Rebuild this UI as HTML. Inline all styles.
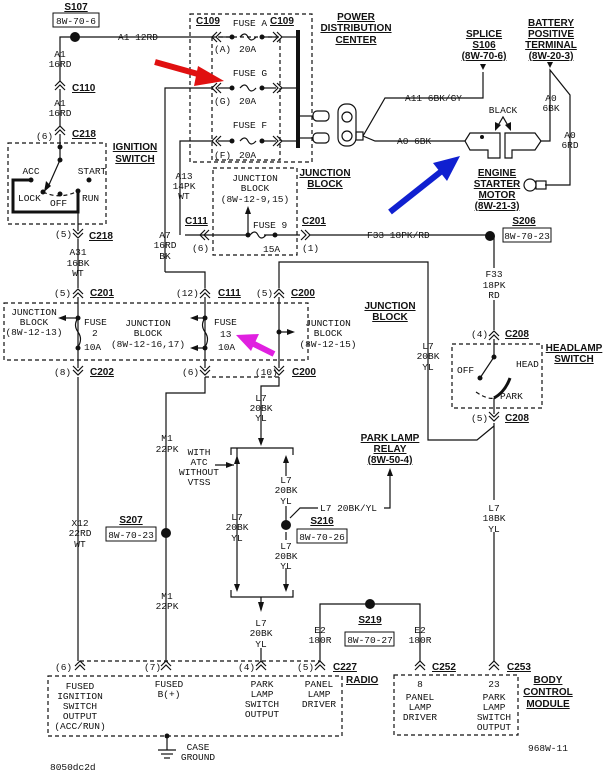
<!DOCTYPE html>
<html><head><meta charset="utf-8"><style>
html,body{margin:0;padding:0;background:#fff;}
svg{display:block;}
text{font-family:"Liberation Mono",monospace;font-size:9.5px;fill:#111;}
.b{font-family:"Liberation Sans",sans-serif;font-weight:bold;font-size:10px;text-decoration:underline;}
.m{text-anchor:middle;}
</style></head><body>
<svg width="604" height="772" viewBox="0 0 604 772" xmlns="http://www.w3.org/2000/svg">
<defs>
<g id="up" fill="none" stroke="#111" stroke-width="1.2"><polyline points="-5,2 0,-3 5,2"/><polyline points="-5,6 0,1 5,6"/></g>
<g id="dn" fill="none" stroke="#111" stroke-width="1.2"><polyline points="-5,-2 0,3 5,-2"/><polyline points="-5,-6 0,-1 5,-6"/></g>
<g id="lf" fill="none" stroke="#111" stroke-width="1.2"><polyline points="2,-5 -3,0 2,5"/><polyline points="6,-5 1,0 6,5"/></g>
<g id="rt" fill="none" stroke="#111" stroke-width="1.2"><polyline points="-2,-5 3,0 -2,5"/><polyline points="-6,-5 -1,0 -6,5"/></g>
<g id="fz" fill="none" stroke="#111" stroke-width="1.2"><path d="M0,0 q5,-6 8,0 t8,0"/></g>
</defs>
<g fill="none" stroke="#111" stroke-width="1.2">
<g stroke-dasharray="4,3">
<rect x="8" y="143" width="98" height="81"/>
<rect x="190" y="14" width="122" height="148"/>
<rect x="212" y="37" width="68" height="123"/>
<rect x="213" y="168" width="84" height="87"/>
<rect x="4" y="303" width="304" height="57"/>
<polyline points="205,377 279,377"/>
<rect x="452" y="344" width="90" height="64"/>
<polyline points="80,661 320,661"/>
<rect x="48" y="676" width="294" height="60"/>
<rect x="394" y="675" width="124" height="60"/>
<path d="M43,192 Q60,200 78,191"/>
<path d="M476,392 Q488,400 494,398"/>
</g>
<polyline points="75,37 60,37 60,81"/>
<line x1="60" y1="89" x2="60" y2="126"/>
<line x1="60" y1="134" x2="60" y2="160"/>
<line x1="60" y1="160" x2="48" y2="187"/>
<polyline points="31,180 13,180 13,212 78,212 78,191" stroke-width="3"/>
<line x1="78" y1="212" x2="78" y2="231"/>
<line x1="78" y1="239" x2="78" y2="288"/>
<line x1="78" y1="297" x2="78" y2="368"/>
<line x1="78" y1="377" x2="78" y2="661"/>
<line x1="75" y1="37" x2="212" y2="37"/>
<line x1="218" y1="37" x2="232" y2="37"/><line x1="262" y1="37" x2="276" y2="37"/><line x1="282" y1="37" x2="298" y2="37"/>
<polyline points="165,272 165,88 212,88"/>
<line x1="218" y1="88" x2="232" y2="88"/><line x1="262" y1="88" x2="276" y2="88"/><line x1="282" y1="88" x2="298" y2="88"/>
<polyline points="180,235 180,141 212,141"/>
<line x1="218" y1="141" x2="232" y2="141"/><line x1="262" y1="141" x2="276" y2="141"/><line x1="282" y1="141" x2="298" y2="141"/>
<line x1="298" y1="30" x2="298" y2="148" stroke-width="4"/>
<line x1="298" y1="116" x2="313" y2="116"/><line x1="298" y1="138" x2="313" y2="138"/>
<rect x="313" y="111" width="16" height="10" rx="4"/><rect x="313" y="133" width="16" height="10" rx="4"/>
<rect x="338" y="104" width="18" height="42" rx="8"/>
<circle cx="347" cy="117" r="5"/><circle cx="347" cy="136" r="5"/>
<rect x="356" y="132" width="7" height="8"/>
<polyline points="363,136 385,98 483,98 483,72"/>
<polyline points="363,136 375,141 465,141"/>
<path d="M465,141 L470,133 L500,133 L500,158 L488,158 L488,150 L470,150 Z"/>
<path d="M505,133 L535,133 L541,141 L535,150 L512,150 L512,158 L505,158 Z"/>
<polyline points="541,141 550,141 550,70 570,95 570,185 545,185"/>
<circle cx="530" cy="185" r="6"/><rect x="536" y="181" width="10" height="8"/>
<polyline points="496,129 503,117 510,129"/>
<polyline points="165,272 205,272 205,288"/>
<line x1="205" y1="297" x2="205" y2="368"/>
<polyline points="205,377 205,393 166,393 166,661"/>
<line x1="185" y1="235" x2="248" y2="235"/><line x1="248" y1="235" x2="248" y2="210"/>
<line x1="264" y1="235" x2="300" y2="235"/><line x1="310" y1="235" x2="490" y2="235"/>
<polyline points="279,288 279,262 428,262 428,440 477,440 494,426"/>
<polyline points="279,297 279,368"/>
<polyline points="279,377 279,386 261,386 261,440"/>
<polyline points="231,455 231,448 293,448 293,455"/>
<line x1="237" y1="448" x2="237" y2="590"/>
<line x1="286" y1="460" x2="286" y2="476"/>
<line x1="286" y1="506" x2="286" y2="525"/><line x1="286" y1="532" x2="286" y2="540"/><line x1="286" y1="568" x2="286" y2="590"/>
<polyline points="231,590 231,597 293,597 293,590"/>
<line x1="261" y1="597" x2="261" y2="610"/><line x1="261" y1="648" x2="261" y2="661"/>
<polyline points="290,518 300,508 318,508"/><polyline points="384,508 390,508 390,472"/>
<line x1="215" y1="465" x2="234" y2="465"/>
<line x1="494" y1="236" x2="494" y2="268"/><line x1="494" y1="300" x2="494" y2="330"/>
<polyline points="494,339 494,357 480,378"/>
<path d="M494,398 Q505,392 510,378" stroke-width="3"/>
<line x1="494" y1="398" x2="494" y2="414"/>
<line x1="494" y1="423" x2="494" y2="500"/><line x1="494" y1="532" x2="494" y2="661"/>
<polyline points="320,661 320,604 420,604 420,661"/>
<polyline points="167,736 167,750"/>
<line x1="158" y1="750" x2="176" y2="750"/><line x1="161" y1="754" x2="173" y2="754"/><line x1="164" y1="758" x2="170" y2="758"/>
<rect x="53" y="13" width="46" height="14" stroke-width="1"/>
<rect x="503" y="228" width="48" height="14" stroke-width="1"/>
<rect x="106" y="527" width="50" height="14" stroke-width="1"/>
<rect x="297" y="529" width="50" height="14" stroke-width="1"/>
<rect x="345" y="632" width="49" height="14" stroke-width="1"/>
</g>
<use href="#fz" x="240" y="37"/><use href="#fz" x="240" y="88"/><use href="#fz" x="240" y="141"/><use href="#fz" x="250" y="235"/>
<g fill="none" stroke="#111" stroke-width="1.2"><path d="M78,318 q-5,7 0,14 t0,15"/><path d="M205,318 q-5,7 0,14 t0,15"/></g>
<use href="#lf" x="215" y="37"/><use href="#rt" x="279" y="37"/>
<use href="#lf" x="215" y="88"/><use href="#rt" x="279" y="88"/>
<use href="#lf" x="215" y="141"/><use href="#rt" x="279" y="141"/>
<use href="#lf" x="203" y="235"/><use href="#rt" x="307" y="235"/>
<use href="#up" x="60" y="84"/><use href="#up" x="60" y="129"/><use href="#dn" x="78" y="235"/>
<use href="#up" x="78" y="292"/><use href="#up" x="205" y="292"/><use href="#up" x="279" y="292"/>
<use href="#dn" x="78" y="372"/><use href="#dn" x="205" y="372"/><use href="#dn" x="279" y="372"/>
<use href="#up" x="494" y="334"/><use href="#dn" x="494" y="418"/>
<use href="#up" x="80" y="664"/><use href="#up" x="166" y="664"/><use href="#up" x="261" y="664"/><use href="#up" x="320" y="664"/>
<use href="#up" x="420" y="664"/><use href="#up" x="494" y="664"/>
<g fill="#111">
<circle cx="75" cy="37" r="5"/><circle cx="490" cy="236" r="5"/><circle cx="166" cy="533" r="5"/><circle cx="286" cy="525" r="5"/><circle cx="370" cy="604" r="5"/>
<circle cx="60" cy="147" r="2.5"/><circle cx="60" cy="160" r="2.5"/><circle cx="31" cy="180" r="2.5"/><circle cx="89" cy="180" r="2.5"/><circle cx="43" cy="192" r="2.5"/><circle cx="60" cy="194" r="2.5"/><circle cx="78" cy="191" r="2.5"/>
<circle cx="232" cy="37" r="2.5"/><circle cx="262" cy="37" r="2.5"/><circle cx="232" cy="88" r="2.5"/><circle cx="262" cy="88" r="2.5"/><circle cx="232" cy="141" r="2.5"/><circle cx="262" cy="141" r="2.5"/>
<circle cx="248" cy="235" r="2.5"/><circle cx="275" cy="235" r="2.5"/>
<circle cx="78" cy="318" r="2.5"/><circle cx="78" cy="348" r="2.5"/><circle cx="205" cy="318" r="2.5"/><circle cx="205" cy="348" r="2.5"/><circle cx="279" cy="332" r="2.5"/>
<circle cx="494" cy="357" r="2.5"/><circle cx="480" cy="378" r="2.5"/><circle cx="167" cy="736" r="2.5"/>
<circle cx="482" cy="137" r="2"/>
<polygon points="44,192 46,181 51,186"/>
<polygon points="248,206 245,214 251,214"/>
<polygon points="58,318 66,315 66,321"/><polygon points="190,318 198,315 198,321"/><polygon points="190,348 198,345 198,351"/><polygon points="295,332 287,329 287,335"/>
<polygon points="261,446 258,438 264,438"/><polygon points="237,455 234,464 240,464"/><polygon points="234,465 226,462 226,468"/>
<polygon points="286,455 283,463 289,463"/><polygon points="237,592 234,584 240,584"/><polygon points="286,592 283,584 289,584"/><polygon points="261,612 258,602 264,602"/>
<polygon points="390,468 387,476 393,476"/><polygon points="483,70 480,64 486,64"/><polygon points="550,68 547,62 553,62"/>
<polygon points="495,131 495,122 501,125"/><polygon points="511,131 505,125 511,122"/>
</g>
<line x1="279" y1="332" x2="290" y2="332" stroke="#111" stroke-width="1.2"/>
<line x1="66" y1="318" x2="78" y2="318" stroke="#111" stroke-width="1.2"/><line x1="198" y1="318" x2="205" y2="318" stroke="#111" stroke-width="1.2"/><line x1="198" y1="348" x2="205" y2="348" stroke="#111" stroke-width="1.2"/>
<line x1="155" y1="62" x2="205" y2="76" stroke="#e01010" stroke-width="6"/><polygon points="224,81 198,66 194,86" fill="#e01010"/>
<line x1="390" y1="212" x2="443" y2="170" stroke="#1020d0" stroke-width="6"/><polygon points="460,156 433,163 447,181" fill="#1020d0"/>
<line x1="274" y1="354" x2="250" y2="342" stroke="#e020e0" stroke-width="6"/><polygon points="236,335 259,334 251,351" fill="#e020e0"/>
<text class="b m" x="76" y="10">S107</text>
<text class="m" x="76" y="24">8W-70-6</text>
<text x="118" y="40">A1 12RD</text>
<text class="m" x="60" y="57">A1</text><text class="m" x="60" y="67">16RD</text>
<text class="b" x="72" y="91">C110</text>
<text class="m" x="60" y="106">A1</text><text class="m" x="60" y="116">16RD</text>
<text x="36" y="139">(6)</text><text class="b" x="72" y="137">C218</text>
<text class="b m" x="135" y="150">IGNITION</text><text class="b m" x="135" y="162">SWITCH</text>
<text class="m" x="31" y="174">ACC</text><text class="m" x="92" y="174">START</text>
<text x="18" y="201">LOCK</text><text x="50" y="206">OFF</text><text x="82" y="201">RUN</text>
<text x="55" y="237">(5)</text><text class="b" x="89" y="239">C218</text>
<text class="m" x="78" y="255">A31</text><text class="m" x="78" y="266">16BK</text><text class="m" x="78" y="276">WT</text>
<text class="b" x="196" y="24">C109</text><text class="m" x="250" y="26">FUSE A</text><text class="b" x="270" y="24">C109</text>
<text x="214" y="52">(A)</text><text x="239" y="52">20A</text>
<text class="m" x="250" y="76">FUSE G</text><text x="214" y="104">(G)</text><text x="239" y="104">20A</text>
<text class="m" x="250" y="128">FUSE F</text><text x="214" y="158">(F)</text><text x="239" y="158">20A</text>
<text class="b m" x="356" y="20">POWER</text><text class="b m" x="356" y="31">DISTRIBUTION</text><text class="b m" x="356" y="43">CENTER</text>
<text class="b m" x="325" y="176">JUNCTION</text><text class="b m" x="325" y="187">BLOCK</text>
<text class="m" x="184" y="179">A13</text><text class="m" x="184" y="189">14PK</text><text class="m" x="184" y="199">WT</text>
<text class="m" x="255" y="181">JUNCTION</text><text class="m" x="255" y="191">BLOCK</text><text class="m" x="255" y="202">(8W-12-9,15)</text>
<text x="253" y="228">FUSE 9</text><text x="263" y="252">15A</text>
<text class="b" x="185" y="224">C111</text><text x="192" y="251">(6)</text>
<text class="b" x="302" y="224">C201</text><text x="302" y="251">(1)</text>
<text class="m" x="165" y="238">A7</text><text class="m" x="165" y="248">16RD</text><text class="m" x="165" y="259">BK</text>
<text x="367" y="238">F33 18PK/RD</text>
<text class="b m" x="524" y="224">S206</text><text class="m" x="527" y="239">8W-70-23</text>
<text x="405" y="101">A11 6BK/GY</text><text x="397" y="144">A0 6BK</text>
<text class="m" x="503" y="113">BLACK</text>
<text class="m" x="551" y="101">A0</text><text class="m" x="551" y="111">6BK</text>
<text class="m" x="570" y="138">A0</text><text class="m" x="570" y="148">6RD</text>
<text class="b m" x="484" y="37">SPLICE</text><text class="b m" x="484" y="48">S106</text><text class="b m" x="484" y="59">(8W-70-6)</text>
<text class="b m" x="551" y="26">BATTERY</text><text class="b m" x="551" y="37">POSITIVE</text><text class="b m" x="551" y="48">TERMINAL</text><text class="b m" x="551" y="59">(8W-20-3)</text>
<text class="b m" x="497" y="176">ENGINE</text><text class="b m" x="497" y="187">STARTER</text><text class="b m" x="497" y="198">MOTOR</text><text class="b m" x="497" y="209">(8W-21-3)</text>
<text x="54" y="296">(5)</text><text class="b" x="90" y="296">C201</text>
<text x="176" y="296">(12)</text><text class="b" x="218" y="296">C111</text>
<text x="256" y="296">(5)</text><text class="b" x="291" y="296">C200</text>
<text class="m" x="34" y="315">JUNCTION</text><text class="m" x="34" y="325">BLOCK</text><text class="m" x="34" y="335">(8W-12-13)</text>
<text x="84" y="325">FUSE</text><text x="92" y="336">2</text><text x="84" y="350">10A</text>
<text class="m" x="148" y="326">JUNCTION</text><text class="m" x="148" y="336">BLOCK</text><text class="m" x="148" y="347">(8W-12-16,17)</text>
<text x="214" y="325">FUSE</text><text x="220" y="337">13</text><text x="218" y="350">10A</text>
<text class="m" x="328" y="326">JUNCTION</text><text class="m" x="328" y="336">BLOCK</text><text class="m" x="328" y="347">(8W-12-15)</text>
<text class="b m" x="390" y="309">JUNCTION</text><text class="b m" x="390" y="320">BLOCK</text>
<text x="54" y="375">(8)</text><text class="b" x="90" y="375">C202</text>
<text x="182" y="375">(6)</text><text x="255" y="375">(10)</text><text class="b" x="292" y="375">C200</text>
<text class="m" x="261" y="401">L7</text><text class="m" x="261" y="411">20BK</text><text class="m" x="261" y="421">YL</text>
<text class="m" x="428" y="349">L7</text><text class="m" x="428" y="359">20BK</text><text class="m" x="428" y="370">YL</text>
<text class="m" x="494" y="277">F33</text><text class="m" x="494" y="288">18PK</text><text class="m" x="494" y="298">RD</text>
<text x="471" y="337">(4)</text><text class="b" x="505" y="337">C208</text>
<text x="471" y="421">(5)</text><text class="b" x="505" y="421">C208</text>
<text class="b m" x="574" y="351">HEADLAMP</text><text class="b m" x="574" y="362">SWITCH</text>
<text x="457" y="373">OFF</text><text x="516" y="367">HEAD</text><text x="500" y="399">PARK</text>
<text class="m" x="167" y="441">M1</text><text class="m" x="167" y="452">22PK</text>
<text class="m" x="199" y="455">WITH</text><text class="m" x="199" y="465">ATC</text><text class="m" x="199" y="475">WITHOUT</text><text class="m" x="199" y="485">VTSS</text>
<text class="b m" x="390" y="441">PARK LAMP</text><text class="b m" x="390" y="452">RELAY</text><text class="b m" x="390" y="463">(8W-50-4)</text>
<text class="m" x="286" y="483">L7</text><text class="m" x="286" y="493">20BK</text><text class="m" x="286" y="504">YL</text>
<text x="320" y="511">L7 20BK/YL</text>
<text class="m" x="237" y="520">L7</text><text class="m" x="237" y="530">20BK</text><text class="m" x="237" y="541">YL</text>
<text class="b m" x="322" y="524">S216</text>
<text class="m" x="322" y="540">8W-70-26</text>
<text class="m" x="286" y="549">L7</text><text class="m" x="286" y="559">20BK</text><text class="m" x="286" y="569">YL</text>
<text class="b m" x="131" y="523">S207</text><text class="m" x="131" y="538">8W-70-23</text>
<text class="m" x="80" y="526">X12</text><text class="m" x="80" y="536">22RD</text><text class="m" x="80" y="547">WT</text>
<text class="m" x="494" y="511">L7</text><text class="m" x="494" y="521">18BK</text><text class="m" x="494" y="532">YL</text>
<text class="m" x="167" y="599">M1</text><text class="m" x="167" y="609">22PK</text>
<text class="m" x="261" y="626">L7</text><text class="m" x="261" y="636">20BK</text><text class="m" x="261" y="647">YL</text>
<text class="b m" x="370" y="623">S219</text><text class="m" x="370" y="643">8W-70-27</text>
<text class="m" x="320" y="633">E2</text><text class="m" x="320" y="643">180R</text>
<text class="m" x="420" y="633">E2</text><text class="m" x="420" y="643">180R</text>
<text x="55" y="670">(6)</text><text x="144" y="670">(7)</text><text x="238" y="670">(4)</text><text x="297" y="670">(5)</text>
<text class="b" x="333" y="670">C227</text><text class="b" x="432" y="670">C252</text><text class="b" x="507" y="670">C253</text>
<text class="b" x="346" y="683">RADIO</text>
<text class="b m" x="548" y="683">BODY</text><text class="b m" x="548" y="695">CONTROL</text><text class="b m" x="548" y="707">MODULE</text>
<text class="m" x="80" y="689">FUSED</text><text class="m" x="80" y="699">IGNITION</text><text class="m" x="80" y="709">SWITCH</text><text class="m" x="80" y="719">OUTPUT</text><text class="m" x="80" y="729">(ACC/RUN)</text>
<text class="m" x="169" y="687">FUSED</text><text class="m" x="169" y="697">B(+)</text>
<text class="m" x="262" y="687">PARK</text><text class="m" x="262" y="697">LAMP</text><text class="m" x="262" y="707">SWITCH</text><text class="m" x="262" y="717">OUTPUT</text>
<text class="m" x="319" y="687">PANEL</text><text class="m" x="319" y="697">LAMP</text><text class="m" x="319" y="707">DRIVER</text>
<text class="m" x="420" y="687">8</text><text class="m" x="420" y="700">PANEL</text><text class="m" x="420" y="710">LAMP</text><text class="m" x="420" y="720">DRIVER</text>
<text class="m" x="494" y="687">23</text><text class="m" x="494" y="700">PARK</text><text class="m" x="494" y="710">LAMP</text><text class="m" x="494" y="720">SWITCH</text><text class="m" x="494" y="730">OUTPUT</text>
<text class="m" x="198" y="750">CASE</text><text class="m" x="198" y="760">GROUND</text>
<text x="528" y="751">968W-11</text>
<text x="50" y="770">8050dc2d</text>
</svg>
</body></html>
